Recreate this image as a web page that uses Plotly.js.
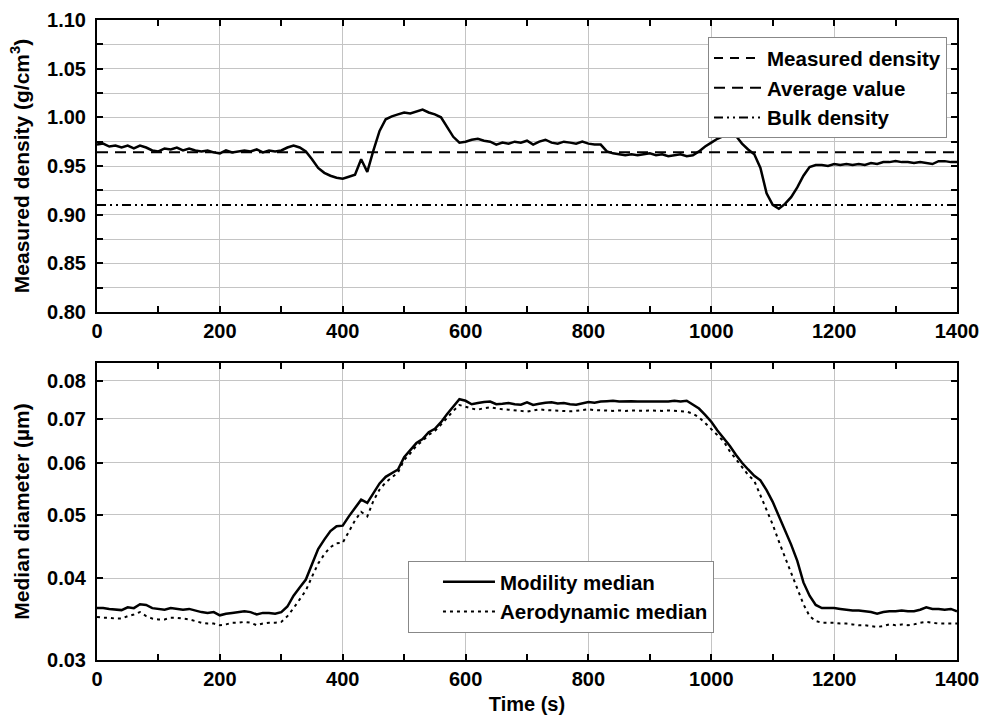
<!DOCTYPE html>
<html>
<head>
<meta charset="utf-8">
<script src="https://cdn.plot.ly/plotly-3.0.1.min.js"></script>
<style>html,body{margin:0;padding:0;background:#fff;}#chart{width:982px;height:723px;}</style>
</head>
<body>
<div id="chart"></div>
<script>
// Time axis (s)
const timeS = [0,10,20,30,40,50,60,70,80,90,
100,110,120,130,140,150,160,170,180,190,
200,210,220,230,240,250,260,270,280,290,
300,310,320,330,340,350,360,370,380,390,
400,410,420,430,440,450,460,470,480,490,
500,510,520,530,540,550,560,570,580,590,
600,610,620,630,640,650,660,670,680,690,
700,710,720,730,740,750,760,770,780,790,
800,810,820,830,840,850,860,870,880,890,
900,910,920,930,940,950,960,970,980,990,
1000,1010,1020,1030,1040,1050,1060,1070,1080,1090,
1100,1110,1120,1130,1140,1150,1160,1170,1180,1190,
1200,1210,1220,1230,1240,1250,1260,1270,1280,1290,
1300,1310,1320,1330,1340,1350,1360,1370,1380,1390,
1400];

// Measured density (g/cm3)
const measuredDensity = [0.972,0.973,0.970,0.971,0.969,0.971,0.968,0.971,0.969,0.966,
0.965,0.968,0.967,0.969,0.966,0.968,0.966,0.965,0.966,0.964,
0.963,0.966,0.964,0.965,0.966,0.965,0.967,0.964,0.966,0.965,
0.966,0.969,0.971,0.969,0.965,0.957,0.948,0.943,0.940,0.938,
0.937,0.939,0.941,0.957,0.944,0.966,0.986,0.998,1.001,1.003,
1.005,1.004,1.006,1.008,1.005,1.003,1.000,0.990,0.980,0.974,
0.975,0.977,0.978,0.976,0.975,0.972,0.974,0.973,0.975,0.974,
0.976,0.972,0.975,0.977,0.974,0.973,0.975,0.974,0.973,0.975,
0.973,0.972,0.972,0.965,0.963,0.962,0.961,0.962,0.961,0.962,
0.963,0.961,0.962,0.960,0.961,0.962,0.960,0.961,0.965,0.970,
0.974,0.978,0.981,0.983,0.981,0.973,0.967,0.962,0.948,0.922,
0.910,0.906,0.911,0.918,0.928,0.940,0.949,0.951,0.951,0.950,
0.952,0.951,0.952,0.951,0.952,0.951,0.953,0.952,0.954,0.954,
0.955,0.954,0.954,0.953,0.954,0.953,0.952,0.955,0.955,0.954,
0.954];

const averageValue = 0.964;
const bulkDensity = 0.910;
const refLineX = [0, 1400];

// Median diameters (µm)
const modilityMedian = [0.0360,0.0360,0.0359,0.0358,0.03575,0.0361,0.0360,0.0365,0.0364,0.0360,
0.0359,0.0358,0.0360,0.0359,0.0358,0.0359,0.0357,0.0355,0.0354,0.0355,
0.0351,0.0353,0.0354,0.0355,0.0356,0.0355,0.0352,0.0354,0.0354,0.0353,
0.0355,0.0362,0.0376,0.0387,0.0398,0.0420,0.0443,0.0458,0.0472,0.0480,
0.0481,0.0497,0.0512,0.0527,0.0521,0.0538,0.0558,0.0571,0.0578,0.0586,
0.0612,0.0628,0.0643,0.0652,0.0668,0.0676,0.0692,0.0712,0.0731,0.0750,
0.0746,0.0737,0.0740,0.0743,0.0744,0.0737,0.0738,0.0740,0.0737,0.0736,
0.0742,0.0735,0.0738,0.0741,0.0742,0.0739,0.0740,0.0737,0.0736,0.0740,
0.0743,0.0741,0.0744,0.0745,0.0746,0.0744,0.0745,0.0745,0.0744,0.0744,
0.0743,0.0744,0.0743,0.0744,0.0746,0.0744,0.0746,0.0737,0.0726,0.0710,
0.0693,0.0672,0.0655,0.0637,0.0617,0.0600,0.0586,0.0573,0.0564,0.0545,
0.0523,0.0498,0.0472,0.0450,0.0425,0.0394,0.0376,0.0364,0.0360,0.0360,
0.0360,0.0359,0.0358,0.0357,0.0357,0.0356,0.0355,0.0353,0.0355,0.0356,
0.0356,0.0357,0.0356,0.0356,0.0358,0.0361,0.0359,0.0359,0.0358,0.0359,
0.0356];

const aerodynamicMedian = [0.0349,0.0348,0.0348,0.0347,0.0347,0.0350,0.0352,0.0355,0.0350,0.0347,
0.0346,0.0346,0.0348,0.0348,0.0347,0.0346,0.0344,0.0342,0.0341,0.0341,
0.0339,0.0340,0.0342,0.0342,0.0343,0.0342,0.0339,0.0341,0.0342,0.0342,
0.0343,0.0350,0.0360,0.0372,0.0383,0.0402,0.0421,0.0435,0.0446,0.0452,
0.0453,0.0471,0.0490,0.0505,0.0497,0.0525,0.0546,0.0560,0.0570,0.0580,
0.0606,0.0620,0.0637,0.0648,0.0662,0.0671,0.0686,0.0704,0.0720,0.0735,
0.0730,0.0726,0.0723,0.0727,0.0729,0.0726,0.0724,0.0723,0.0722,0.0720,
0.0718,0.0721,0.0724,0.0722,0.0721,0.0720,0.0719,0.0719,0.0720,0.0722,
0.0724,0.0722,0.0721,0.0721,0.0720,0.0721,0.0720,0.0721,0.0720,0.0720,
0.0721,0.0720,0.0720,0.0721,0.0720,0.0720,0.0718,0.0713,0.0704,0.0690,
0.0675,0.0659,0.0647,0.0625,0.0607,0.0590,0.0575,0.0563,0.0535,0.0508,
0.0483,0.0455,0.0430,0.0407,0.0384,0.0365,0.0350,0.0344,0.0342,0.0342,
0.0342,0.0341,0.0341,0.0340,0.0339,0.0339,0.0338,0.0337,0.0338,0.0340,
0.0339,0.0340,0.0339,0.0340,0.0342,0.0343,0.0342,0.0341,0.0341,0.0341,
0.0341];

const xTickVals = [0,200,400,600,800,1000,1200,1400];
const yTopTickVals = [0.80,0.85,0.90,0.95,1.00,1.05,1.10];
const yBotTickVals = [0.03,0.04,0.05,0.06,0.07,0.08];
const yBotTickText = ['0.03','0.04','0.05','0.06','0.07','0.08'];

const FONT = {family:'Liberation Sans, Arial, sans-serif', size:20, color:'#000', weight:'bold'};
const TFONT = {family:'Liberation Sans, Arial, sans-serif', size:21, color:'#000', weight:'bold'};
const LFONT = {family:'Liberation Sans, Arial, sans-serif', size:20.5, color:'#000', weight:'bold'};
const GRID = '#c4c4c4';

const traces = [
  {x: timeS, y: measuredDensity, type:'scatter', mode:'lines', name:'Measured density',
   line:{color:'#000', width:2.5}, xaxis:'x', yaxis:'y', showlegend:false},
  {x:[null], y:[null], type:'scatter', mode:'lines', name:'Measured density',
   line:{color:'#000', width:2, dash:'9px,7px'}, xaxis:'x', yaxis:'y', legend:'legend'},
  {x: refLineX, y:[averageValue, averageValue], type:'scatter', mode:'lines', name:'Average value',
   line:{color:'#000', width:2, dash:'11px,7px'}, xaxis:'x', yaxis:'y', legend:'legend'},
  {x: refLineX, y:[bulkDensity, bulkDensity], type:'scatter', mode:'lines', name:'Bulk density',
   line:{color:'#000', width:2, dash:'9px,4px,2px,4px,2px,4px'}, xaxis:'x', yaxis:'y', legend:'legend'},
  {x: timeS, y: modilityMedian, type:'scatter', mode:'lines', name:'Modility median',
   line:{color:'#000', width:2.5}, xaxis:'x2', yaxis:'y2', legend:'legend2'},
  {x: timeS, y: aerodynamicMedian, type:'scatter', mode:'lines', name:'Aerodynamic median',
   line:{color:'#000', width:2, dash:'3px,4px'}, xaxis:'x2', yaxis:'y2', legend:'legend2'}
];

function xAxis(anchor, withTitle){
  const ax = {
    anchor: anchor, range:[0,1400], tickvals:xTickVals, ticks:'inside', ticklen:6, tickwidth:2,
    tickcolor:'#000', showline:true, linewidth:2, linecolor:'#000', mirror:'ticks',
    showgrid:true, gridcolor:GRID, gridwidth:1, zeroline:false, tickfont:FONT,
    minor:{dtick:100, tick0:0, ticks:'inside', ticklen:6, tickwidth:2, tickcolor:'#000', showgrid:false}
  };
  if (withTitle) ax.title = {text:'Time (s)', font:FONT, standoff:8};
  return ax;
}

const layout = {
  width:982, height:723,
  margin:{l:97, r:25, t:20, b:63},
  paper_bgcolor:'#fff', plot_bgcolor:'#fff',
  font: FONT,
  xaxis: Object.assign(xAxis('y', false), {domain:[0,1]}),
  xaxis2: Object.assign(xAxis('y2', true), {domain:[0,1]}),
  yaxis: {
    domain:[0.54375, 1], anchor:'x', range:[0.80,1.10], tickvals:yTopTickVals, tickformat:'.2f',
    ticks:'inside', ticklen:6, tickwidth:2, tickcolor:'#000', showline:true, linewidth:2,
    linecolor:'#000', mirror:'ticks', showgrid:true, gridcolor:GRID, gridwidth:1, zeroline:false,
    tickfont:FONT, ticklabelstandoff:5,
    title:{text:'Measured density (g/cm<sup>3</sup>)', font:TFONT, standoff:12},
    minor:{dtick:0.025, tick0:0.8, ticks:'inside', ticklen:6, tickwidth:2, tickcolor:'#000',
           showgrid:true, gridcolor:GRID, gridwidth:1}
  },
  yaxis2: {
    domain:[0, 0.4641], anchor:'x2', type:'log', range:[Math.log10(0.03), Math.log10(0.0852)],
    tickvals:yBotTickVals, ticktext:yBotTickText,
    ticks:'inside', ticklen:6, tickwidth:2, tickcolor:'#000', showline:true, linewidth:2,
    linecolor:'#000', mirror:'ticks', showgrid:true, gridcolor:GRID, gridwidth:1, zeroline:false,
    tickfont:FONT, ticklabelstandoff:5,
    title:{text:'Median diameter (µm)', font:TFONT, standoff:12}
  },
  legend: {
    x:0.7105, y:0.973, xanchor:'left', yanchor:'top', bgcolor:'#fff', bordercolor:'#888',
    borderwidth:1, font:LFONT, tracegroupgap:0, itemwidth:48
  },
  legend2: {
    x:0.3616, y:0.1547, xanchor:'left', yanchor:'top', bgcolor:'#fff', bordercolor:'#888',
    borderwidth:1, font:LFONT, tracegroupgap:0, itemwidth:52, indentation:29
  },
  showlegend:true
};

Plotly.newPlot('chart', traces, layout, {displayModeBar:false, staticPlot:true});
</script>
</body>
</html>
